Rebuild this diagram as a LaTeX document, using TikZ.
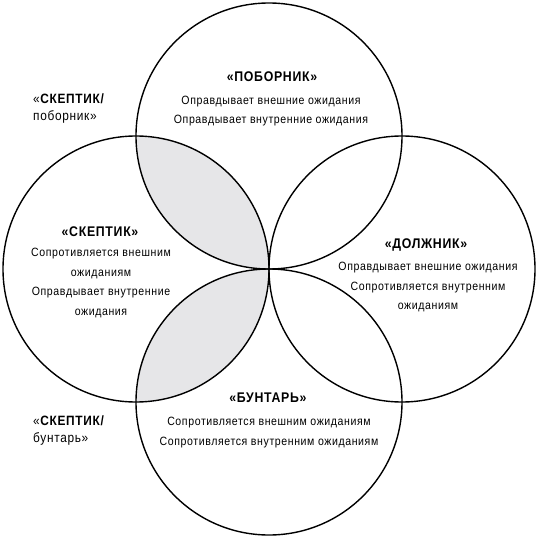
\documentclass[tikz,border=0pt]{standalone}
\usepackage{fontspec}
\setmainfont{Liberation Sans}[FakeStretch=0.88,LetterSpace=5]
\definecolor{lens}{HTML}{E6E6E8}
\begin{document}
\begin{tikzpicture}[x=1pt,y=-1pt,
  ring/.style={line width=1.4pt},
  head/.style={inner sep=0pt,anchor=center,font=\fontsize{14}{16}\selectfont\bfseries},
  body/.style={inner sep=0pt,anchor=north,align=center,font=\fontsize{12}{19.7}\selectfont},
  side/.style={inner sep=0pt,anchor=north west,align=left,font=\fontsize{13.5}{17}\selectfont}]
\useasboundingbox (0,0) rectangle (538,538);
\coordinate (ct) at (269,136);
\coordinate (cl) at (136,269);
\coordinate (cr) at (402,269);
\coordinate (cb) at (269,402);
\begin{scope}
  \clip (cl) circle (133);
  \fill[lens] (ct) circle (133);
  \fill[lens] (cb) circle (133);
\end{scope}
\draw[ring] (ct) circle (133);
\draw[ring] (cl) circle (133);
\draw[ring] (cr) circle (133);
\draw[ring] (cb) circle (133);
% top
\node[head] (h1) at (272,77) {«ПОБОРНИК»};
\node[body] (b1) at (271,95.5) {Оправдывает внешние ожидания\\Оправдывает внутренние ожидания};
% left
\node[head] (h2) at (100,232) {«СКЕПТИК»};
\node[body] (b2) at (101,248) {Сопротивляется внешним\\ожиданиям\\Оправдывает внутренние\\ожидания};
% right
\node[head] (h3) at (426,245) {«ДОЛЖНИК»};
\node[body] (b3) at (428,262) {Оправдывает внешние ожидания\\Сопротивляется внутренним\\ожиданиям};
% bottom
\node[head] (h4) at (268,398) {«БУНТАРЬ»};
\node[body] (b4) at (269,417) {Сопротивляется внешним ожиданиям\\Сопротивляется внутренним ожиданиям};
% side labels
\node[side] (s1) at (33,94) {«\textbf{СКЕПТИК/}\\поборник»};
\node[side] (s2) at (33,416) {«\textbf{СКЕПТИК/}\\бунтарь»};
\end{tikzpicture}
\end{document}
